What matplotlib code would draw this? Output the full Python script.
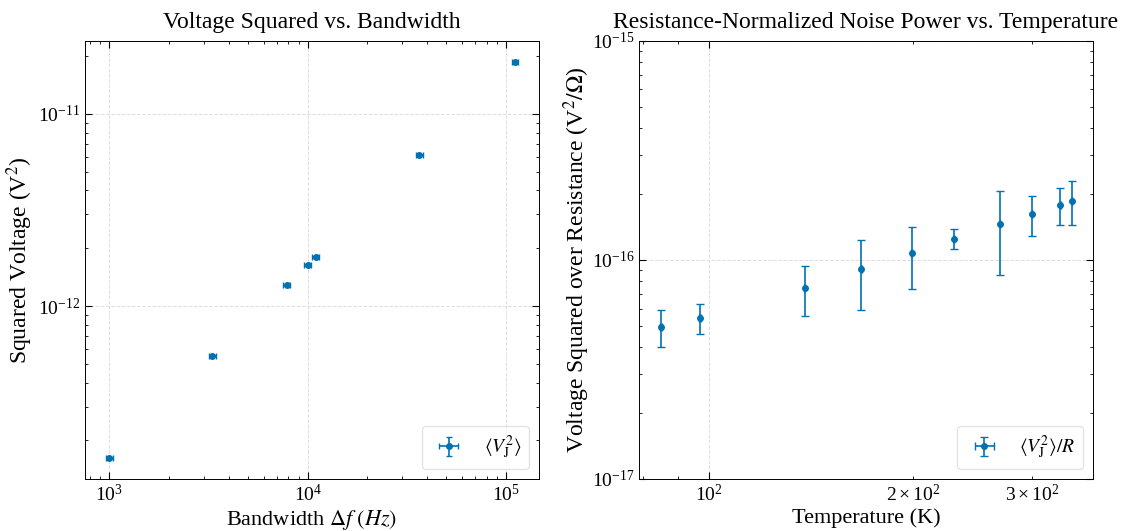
import matplotlib
matplotlib.use("Agg")
import matplotlib.pyplot as plt

plt.rcParams['font.family'] = ['Liberation Serif', 'DejaVu Serif']
plt.rcParams['mathtext.fontset'] = 'stix'
plt.rcParams['xtick.direction'] = 'in'
plt.rcParams['ytick.direction'] = 'in'
plt.rcParams['xtick.top'] = True
plt.rcParams['ytick.right'] = True
plt.rcParams['xtick.minor.visible'] = True
plt.rcParams['ytick.minor.visible'] = True
plt.rcParams['xtick.major.size'] = 5
plt.rcParams['ytick.major.size'] = 5
plt.rcParams['xtick.minor.size'] = 2.5
plt.rcParams['ytick.minor.size'] = 2.5
plt.rcParams['axes.linewidth'] = 0.7

color = '#0072B2'

# bandwidth data
bandwidth = [1000, 3310, 7830, 10000, 10970, 36500, 111000]
v2 = [1.62e-13, 5.53e-13, 1.29e-12, 1.64e-12, 1.80e-12, 6.11e-12, 1.87e-11]
bandwidth_err = [40, 130, 310, 400, 440, 1460, 4400]
v2_err = [2e-15, 6e-15, 1.3e-14, 1.7e-14, 1.8e-14, 6e-14, 1.9e-13]

# temperature data
temperature = [85.0, 97.1, 138.6, 168.1, 199.3, 230.2, 269.1, 300.0, 330.4, 343.9]
v2_over_r = [4.94e-17, 5.43e-17, 7.45e-17, 9.06e-17, 1.07e-16, 1.25e-16, 1.46e-16, 1.62e-16, 1.79e-16, 1.86e-16]
err_low = [0.92e-17, 0.84e-17, 1.90e-17, 3.13e-17, 3.36e-17, 0.13e-16, 0.606e-16, 0.34e-16, 0.34e-16, 0.41e-16]
err_high = [0.95e-17, 0.86e-17, 1.94e-17, 3.24e-17, 3.5e-17, 0.13e-16, 0.60e-16, 0.34e-16, 0.34e-16, 0.43e-16]
temperature_err = [0.3] * 10

fig, (ax1, ax2) = plt.subplots(1, 2, figsize=(11.25, 5.31), dpi=100)
fig.subplots_adjust(left=0.0756, right=0.9716, bottom=0.098, top=0.923, wspace=0.22)

ax1.errorbar(bandwidth, v2, xerr=bandwidth_err, yerr=v2_err, fmt='o', color=color,
             markersize=4, capsize=2, elinewidth=1.2, label=r'$\langle V_\mathrm{J}^2\rangle$')
ax1.set_xscale('log')
ax1.set_yscale('log')
ax1.set_xlabel(r'Bandwidth $\Delta f\ (Hz)$', fontsize=16, labelpad=2)
ax1.set_ylabel(r'Squared Voltage (V$^2$)', fontsize=17, labelpad=2)
ax1.set_title('Voltage Squared vs. Bandwidth', fontsize=17, pad=9)
ax1.grid(True, which='major', linestyle='--', color='#dddddd', linewidth=0.7)
ax1.legend(loc='lower right', fontsize=14, edgecolor='#dddddd')
ax1.tick_params(labelsize=14)

ax2.errorbar(temperature, v2_over_r, xerr=temperature_err, yerr=[err_low, err_high], fmt='o',
             color=color, markersize=4, capsize=3, elinewidth=1.2,
             label=r'$\langle V_\mathrm{J}^2\rangle/R$')
ax2.set_xscale('log')
ax2.set_yscale('log')
ax2.set_ylim(1e-17, 1e-15)
ax2.set_xlabel('Temperature (K)', fontsize=16, labelpad=2)
ax2.set_ylabel(r'Voltage Squared over Resistance (V$^2/\Omega$)', fontsize=17, labelpad=0)
ax2.set_title('Resistance-Normalized Noise Power vs. Temperature', fontsize=17, pad=9)
ax2.grid(True, which='major', linestyle='--', color='#dddddd', linewidth=0.7)
ax2.legend(loc='lower right', fontsize=14, edgecolor='#dddddd')
ax2.tick_params(labelsize=14, which='both')

fig.savefig('out.png', dpi=100)
